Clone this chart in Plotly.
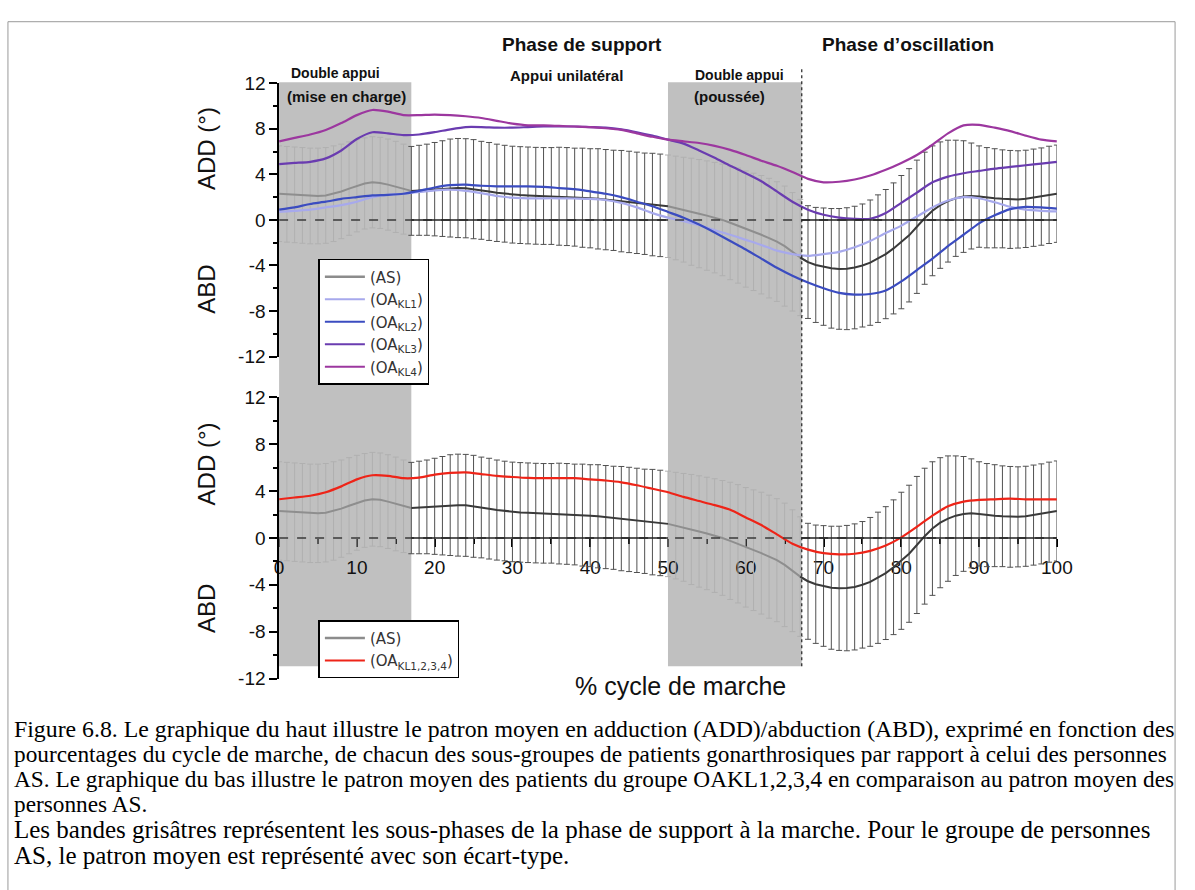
import math
import plotly.graph_objects as go

# ---------------- data ----------------
pct = list(range(0, 101))          # % gait cycle, 1 % step (AS mean / SD)
pct2 = list(range(0, 101, 2))      # % gait cycle, 2 % step (OA groups)

as_mean = [2.3, 2.25, 2.2, 2.15, 2.1, 2.1, 2.15, 2.3, 2.5, 2.75,
           3.0, 3.2, 3.3, 3.25, 3.1, 2.9, 2.7, 2.55, 2.6, 2.65,
           2.7, 2.75, 2.8, 2.8, 2.78, 2.7, 2.6, 2.5, 2.38, 2.3,
           2.22, 2.18, 2.15, 2.12, 2.1, 2.1, 2.08, 2.05, 2.0, 1.95,
           1.9, 1.85, 1.78, 1.72, 1.65, 1.58, 1.5, 1.42, 1.35, 1.28,
           1.2, 1.05, 0.9, 0.72, 0.55, 0.38, 0.2, 0.0, -0.25, -0.5,
           -0.8, -1.05, -1.3, -1.6, -1.9, -2.3, -2.8, -3.3, -3.7, -3.95,
           -4.1, -4.25, -4.3, -4.28, -4.18, -4.0, -3.75, -3.4, -3.0, -2.5,
           -1.95, -1.35, -0.6, 0.15, 0.8, 1.3, 1.65, 1.9, 2.05, 2.1,
           2.05, 1.95, 1.9, 1.85, 1.8, 1.8, 1.85, 1.95, 2.05, 2.2,
           2.3]
as_sd = [4.2, 4.2, 4.2, 4.2, 4.2, 4.2, 4.2, 4.2, 4.15, 4.1,
         4.05, 4.0, 4.0, 4.0, 4.0, 4.0, 3.95, 3.9,
         3.95, 4.0, 4.1, 4.2, 4.3, 4.35, 4.35, 4.35, 4.3, 4.3,
         4.27, 4.25, 4.25, 4.25, 4.25, 4.25, 4.25, 4.25, 4.3, 4.3,
         4.3, 4.35, 4.35, 4.4, 4.4, 4.4, 4.45, 4.45, 4.45, 4.45,
         4.5, 4.5, 4.5,
         4.55, 4.6, 4.7, 4.75, 4.8, 4.85, 4.9, 5.0, 5.05, 5.1,
         5.15, 5.2, 5.25, 5.25, 5.27, 5.2, 5.1,
         4.95, 5.05, 5.15, 5.25, 5.3, 5.35, 5.38, 5.4, 5.5, 5.6,
         5.67, 5.75, 5.85, 5.85, 5.85, 5.8, 5.7, 5.55, 5.35, 5.1,
         4.9, 4.65, 4.45, 4.4, 4.35, 4.3, 4.3, 4.27, 4.27, 4.27,
         4.27, 4.27, 4.27]

oa_kl1 = [0.7, 0.8, 0.9, 1.1, 1.3, 1.6, 2.0, 2.2, 2.3, 2.45,
          2.6, 2.65, 2.55, 2.35, 2.1, 1.95, 1.9, 1.9, 1.9, 1.88,
          1.85, 1.75, 1.5, 1.1, 0.6, 0.2, -0.1, -0.45, -0.9, -1.3,
          -1.75, -2.2, -2.7, -3.0, -3.15, -3.0, -2.8, -2.4, -1.85, -1.15,
          -0.5, 0.3, 1.1, 1.7, 2.0, 1.9, 1.55, 1.15, 0.9, 0.8,
          0.75]
oa_kl2 = [0.9, 1.1, 1.4, 1.6, 1.85, 2.0, 2.15, 2.2, 2.3, 2.55,
          2.85, 3.05, 3.1, 3.0, 2.95, 2.95, 2.95, 2.9, 2.8, 2.7,
          2.5, 2.3, 2.0, 1.6, 1.2, 0.7, 0.2, -0.4, -1.1, -1.85,
          -2.6, -3.4, -4.2, -4.9, -5.5, -6.0, -6.4, -6.55, -6.5, -6.2,
          -5.4, -4.4, -3.4, -2.3, -1.3, -0.3, 0.4, 0.95, 1.15, 1.1,
          1.0]
oa_kl3 = [4.9, 5.0, 5.1, 5.4, 6.1, 7.1, 7.7, 7.6, 7.45, 7.5,
          7.7, 7.95, 8.15, 8.15, 8.1, 8.1, 8.15, 8.2, 8.2, 8.2,
          8.15, 8.1, 7.95, 7.7, 7.4, 7.05, 6.7, 6.1, 5.45, 4.75,
          4.1, 3.4, 2.5, 1.6, 0.9, 0.45, 0.2, 0.1, 0.1, 0.6,
          1.5, 2.4, 3.3, 3.8, 4.1, 4.3, 4.5, 4.65, 4.8, 4.95,
          5.1]
oa_kl4 = [6.9, 7.2, 7.5, 7.9, 8.5, 9.2, 9.65, 9.5, 9.2, 9.2,
          9.25, 9.2, 9.1, 8.95, 8.7, 8.45, 8.3, 8.3, 8.25, 8.2,
          8.15, 8.05, 7.9, 7.6, 7.3, 7.05, 6.9, 6.75, 6.5, 6.15,
          5.7, 5.2, 4.75, 4.2, 3.6, 3.3, 3.35, 3.55, 3.9, 4.4,
          5.0, 5.7, 6.6, 7.6, 8.3, 8.35, 8.1, 7.8, 7.4, 7.05,
          6.9]
oa_all = [3.3, 3.45, 3.6, 3.9, 4.4, 5.0, 5.35, 5.3, 5.1, 5.15,
          5.4, 5.55, 5.6, 5.45, 5.3, 5.2, 5.12, 5.1, 5.1, 5.1,
          5.0, 4.9, 4.75, 4.5, 4.2, 3.9, 3.5, 3.15, 2.8, 2.4,
          1.75, 1.1, 0.3, -0.5, -1.0, -1.3, -1.4, -1.35, -1.1, -0.65,
          0.05, 0.95, 1.9, 2.7, 3.1, 3.25, 3.3, 3.35, 3.3, 3.3,
          3.3]

# sub-phase boundaries (% cycle): double appui 1, appui unilatéral, double appui 2, oscillation
phase_bounds = [0, 17, 50, 67.2, 100]
y_ticks = [-12, -8, -4, 0, 4, 8, 12]
x_ticks = [0, 10, 20, 30, 40, 50, 60, 70, 80, 90, 100]

top_series = [("(OA<sub>KL1</sub>)", oa_kl1, "#a7a9ec"),
              ("(OA<sub>KL2</sub>)", oa_kl2, "#3b4cc0"),
              ("(OA<sub>KL3</sub>)", oa_kl3, "#6a3cb0"),
              ("(OA<sub>KL4</sub>)", oa_kl4, "#9c379f")]

caption = [
    "Figure 6.8. Le graphique du haut illustre le patron moyen en adduction (ADD)/abduction (ABD), exprimé en fonction des",
    "pourcentages du cycle de marche, de chacun des sous-groupes de patients gonarthrosiques par rapport à celui des personnes",
    "AS. Le graphique du bas illustre le patron moyen des patients du groupe OAKL1,2,3,4 en comparaison au patron moyen des",
    "personnes AS.",
    "Les bandes grisâtres représentent les sous-phases de la phase de support à la marche. Pour le groupe de personnes",
    "AS, le patron moyen est représenté avec son écart-type.",
]
caption_sizes = [23.8, 23.3, 23.3, 23.3, 25, 25]
caption_rows = [736, 762, 788, 813, 839, 866]

# ---------------- helpers ----------------
W, H = 1195, 890
def px(x):
    return x / W
def py(y):
    return 1 - y / H

bands = [(phase_bounds[0], phase_bounds[1]), (phase_bounds[2], phase_bounds[3])]
def in_band(x):
    return any(lo <= x < hi for lo, hi in bands)

segments = [(phase_bounds[i], phase_bounds[i + 1], i % 2 == 0) for i in range(3)] + \
           [(phase_bounds[3], phase_bounds[4], False)]

fig = go.Figure()

def add_as(yaxis):
    for flag, col in ((True, "#b0b0b0"), (False, "#505050")):
        xs = [x for x in pct if in_band(x) == flag]
        ys = [as_mean[x] for x in xs]
        es = [as_sd[x] for x in xs]
        fig.add_trace(go.Scatter(
            x=xs, y=ys, mode="markers", yaxis=yaxis, showlegend=False,
            marker=dict(size=1, color="rgba(0,0,0,0)"), hoverinfo="skip",
            error_y=dict(type="data", array=es, visible=True, color=col,
                         thickness=1, width=3)))
    for lo, hi, band in segments:
        xs = [x for x in pct if math.floor(lo) <= x <= math.ceil(hi)]
        fig.add_trace(go.Scatter(
            x=xs, y=[as_mean[x] for x in xs], mode="lines", yaxis=yaxis,
            showlegend=False, hoverinfo="skip",
            line=dict(color="#8e8e8e" if band else "#3a3a3a", width=2)))

# top panel
fig.add_trace(go.Scatter(x=[None], y=[None], mode="lines", name="(AS)",
                         line=dict(color="#8c8c8c", width=2.5), legend="legend", yaxis="y"))
add_as("y")
for name, vals, col in top_series:
    fig.add_trace(go.Scatter(x=pct2, y=vals, mode="lines", name=name, legend="legend",
                             yaxis="y", line=dict(color=col, width=2.2, shape="spline",
                                                  smoothing=0.6)))

# bottom panel
fig.add_trace(go.Scatter(x=[None], y=[None], mode="lines", name="(AS)",
                         line=dict(color="#8c8c8c", width=2.5), legend="legend2", yaxis="y2"))
add_as("y2")
fig.add_trace(go.Scatter(x=pct2, y=oa_all, mode="lines", name="(OA<sub>KL1,2,3,4</sub>)",
                         legend="legend2", yaxis="y2",
                         line=dict(color="#ee2418", width=2.2, shape="spline", smoothing=0.6)))

# ---------------- shapes ----------------
shapes = []
for lo, hi in bands:
    shapes.append(dict(type="rect", xref="x", yref="paper", x0=lo, x1=hi,
                       y0=py(672), y1=py(74), fillcolor="#c0c0c0",
                       line=dict(width=0), layer="below"))
for yref in ("y", "y2"):
    shapes.append(dict(type="line", xref="x", yref=yref, x0=0, x1=100, y0=0, y1=0,
                       line=dict(color="#3a3a3a", width=1.6, dash="dash"), layer="above"))
    for lo, hi in ((phase_bounds[1], phase_bounds[2]), (phase_bounds[3], phase_bounds[4])):
        shapes.append(dict(type="line", xref="x", yref=yref, x0=lo, x1=hi, y0=0, y1=0,
                           line=dict(color="#222222", width=1.6), layer="above"))
shapes.append(dict(type="line", xref="x", yref="paper", x0=phase_bounds[3], x1=phase_bounds[3],
                   y0=py(672), y1=py(58), line=dict(color="#222222", width=1.2, dash="dot")))
shapes.append(dict(type="rect", xref="paper", yref="paper", x0=px(3), x1=px(1191),
                   y0=-0.05, y1=py(12), line=dict(color="#9a9a9a", width=1)))

# ---------------- annotations ----------------
ann = []
def text(x, y, s, size, family="Liberation Sans", bold=False, angle=0, anchor="center", color="#111"):
    ann.append(dict(x=px(x), y=py(y), xref="paper", yref="paper", showarrow=False,
                    text=f"<b>{s}</b>" if bold else s, textangle=angle, xanchor=anchor,
                    yanchor="middle", font=dict(family=family, size=size, color=color)))

text(587, 35, "Phase de support", 19, bold=True)
text(919, 35, "Phase d’oscillation", 19, bold=True)
text(336, 65, "Double appui", 14, bold=True)
text(348, 89, "(mise en charge)", 15, bold=True)
text(572, 67, "Appui unilatéral", 15, bold=True)
text(748, 67, "Double appui", 14, bold=True)
text(737, 89, "(poussée)", 15, bold=True)
text(205, 142, "ADD (°)", 24, angle=-90)
text(205, 286, "ABD", 24, angle=-90)
text(205, 465, "ADD (°)", 24, angle=-90)
text(205, 613, "ABD", 24, angle=-90)
text(688, 692, "% cycle de marche", 25)

for line, sz, row in zip(caption, caption_sizes, caption_rows):
    text(7, row, line, sz, family="Liberation Serif", anchor="left", color="#000")

# ---------------- layout ----------------
axis_font = dict(family="Liberation Sans", size=19, color="#111")
yax = dict(range=[-12, 12], tickvals=y_ticks, ticktext=[str(v) for v in y_ticks],
           ticks="outside", ticklen=8, tickwidth=1.5,
           tickcolor="black", showline=True, linecolor="black", linewidth=1.5,
           showgrid=False, zeroline=False, tickfont=axis_font, anchor="x",
           minor=dict(dtick=2, ticks="outside", ticklen=4, tickwidth=1.5, tickcolor="black"))

legend_common = dict(xanchor="left", yanchor="top", bgcolor="white", bordercolor="black",
                     borderwidth=1.5, font=dict(family="DejaVu Sans", size=15, color="#333"),
                     tracegroupgap=0, itemwidth=40)

fig.update_layout(
    width=W, height=H, autosize=False,
    margin=dict(l=0, r=0, t=0, b=0),
    paper_bgcolor="white", plot_bgcolor="rgba(0,0,0,0)",
    xaxis=dict(domain=[px(279), px(1070.7)], range=[0, 100], anchor="free",
               position=py(540.7), tickvals=x_ticks, ticktext=[str(v) for v in x_ticks],
               ticks="outside", ticklen=8,
               tickwidth=1.5, tickcolor="black", showline=False, showgrid=False,
               zeroline=False, tickfont=axis_font, ticklabelstandoff=4,
               minor=dict(dtick=5, ticks="outside", ticklen=5, tickwidth=1.5,
                          tickcolor="black")),
    yaxis=dict(domain=[py(355), py(75)], **yax),
    yaxis2=dict(domain=[py(684.7), py(396.7)], **yax),
    legend=dict(x=px(319), y=py(255), **legend_common),
    legend2=dict(x=px(319), y=py(625), **legend_common),
    shapes=shapes, annotations=ann, showlegend=True,
)

fig.write_html("out.html")
